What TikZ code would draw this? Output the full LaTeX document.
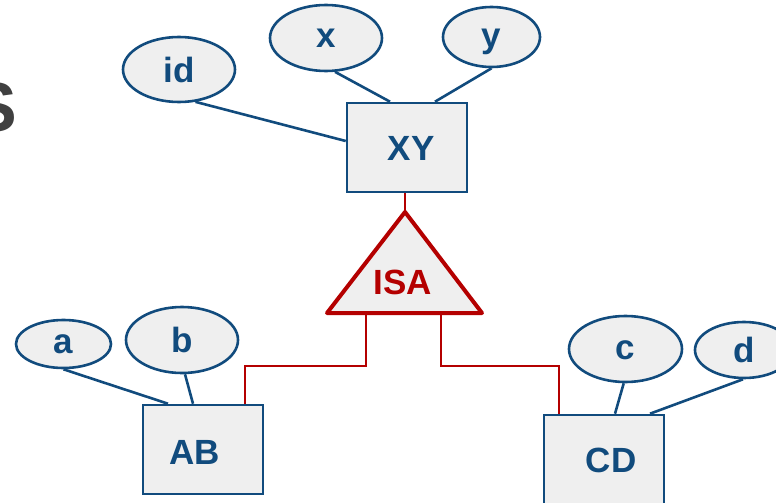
\documentclass[tikz,border=0pt]{standalone}
\usepackage{fontspec}
\setmainfont{Liberation Sans}
\usetikzlibrary{shapes.geometric,calc}
\definecolor{erblue}{RGB}{17,75,125}
\definecolor{isared}{RGB}{180,0,0}
\definecolor{shade}{RGB}{239,239,239}
\definecolor{titlegrey}{RGB}{64,64,64}

\begin{document}
\begin{tikzpicture}[x=1pt,y=-1pt,
  lbl/.style={font=\fontsize{35}{40}\selectfont\bfseries, text=erblue},
  attr/.style={ellipse, draw=erblue, fill=shade, line width=2.6pt, inner sep=0pt, lbl},
  entity/.style={rectangle, draw=erblue, fill=shade, line width=2.6pt,
    minimum width=120pt, minimum height=89pt, inner sep=0pt},
  link/.style={draw=erblue, line width=2.6pt},
  isalink/.style={draw=isared, line width=2pt},
  isabox/.style={draw=isared, fill=shade, line width=4pt, line join=round},
  isatext/.style={font=\fontsize{35}{40}\selectfont\bfseries, text=isared, inner sep=0pt},
]
\useasboundingbox (0,0) rectangle (776,503);
\clip (0,0) rectangle (776,503);

% tail of the heading
\node[anchor=base east, inner sep=0pt, font=\fontsize{70}{80}\selectfont\bfseries,
  text=titlegrey] (heading) at (17.5,131) {S};

% entities
\node[entity, label={[lbl, xshift=4pt, yshift=-1pt]center:XY}] (XY) at (407,147.5) {};
\node[entity, label={[lbl, xshift=-8pt, yshift=-2.5pt]center:AB}] (AB) at (203,449.5) {};
\node[entity, minimum height=90pt, label={[lbl, xshift=7pt]center:CD}] (CD) at (604,460) {};

% attributes
\node[attr, minimum width=112pt, minimum height=65pt] (id) at (179,69.5) {id};
\node[attr, minimum width=112pt, minimum height=66pt] (x) at (326,38) {x};
\node[attr, minimum width=97pt, minimum height=60pt, text depth=0pt] (y) at (491.5,37) {\raisebox{-3pt}{y}};
\node[attr, minimum width=95pt, minimum height=48pt] (a) at (63.5,344) {a};
\node[attr, minimum width=112pt, minimum height=66pt] (b) at (182,340) {b};
\node[attr, minimum width=113pt, minimum height=66pt, text depth=0pt] (c) at (625.5,349) {\raisebox{-2pt}{c}};
\node[attr, minimum width=98pt, minimum height=56pt] (d) at (744,350) {d};

% attribute links
\draw[link] (id.-63) -- ($(XY.west)+(0,-6.5)$);
\draw[link] (x.-75) -- ($(XY.north)+(-17,0)$);
\draw[link] (y.-90) -- ($(XY.north)+(28,0)$);
\draw[link] (a.south) -- ($(AB.north)+(-35,0)$);
\draw[link] (b.-85) -- ($(AB.north)+(-10,0)$);
\draw[link] (c.-93) -- ($(CD.north)+(11,0)$);
\draw[link] (d.-92) -- ($(CD.north)+(46,0)$);

% ISA triangle
\coordinate (apex) at (405,212);
\coordinate (baseL) at (366,313);
\coordinate (baseR) at (441,313);
\draw[isalink] ($(XY.south)+(-2,0)$) -- (apex);
\draw[isalink] (baseL) -- ++(0,53) -| ($(AB.north)+(42,0)$);
\draw[isalink] (baseR) -- ++(0,53) -| ($(CD.north)+(-45,0)$);
\draw[isabox] (apex) -- (482,313) -- (327,313) -- cycle;
\node[isatext] (isa) at (402.5,282) {ISA};
\end{tikzpicture}
\end{document}
